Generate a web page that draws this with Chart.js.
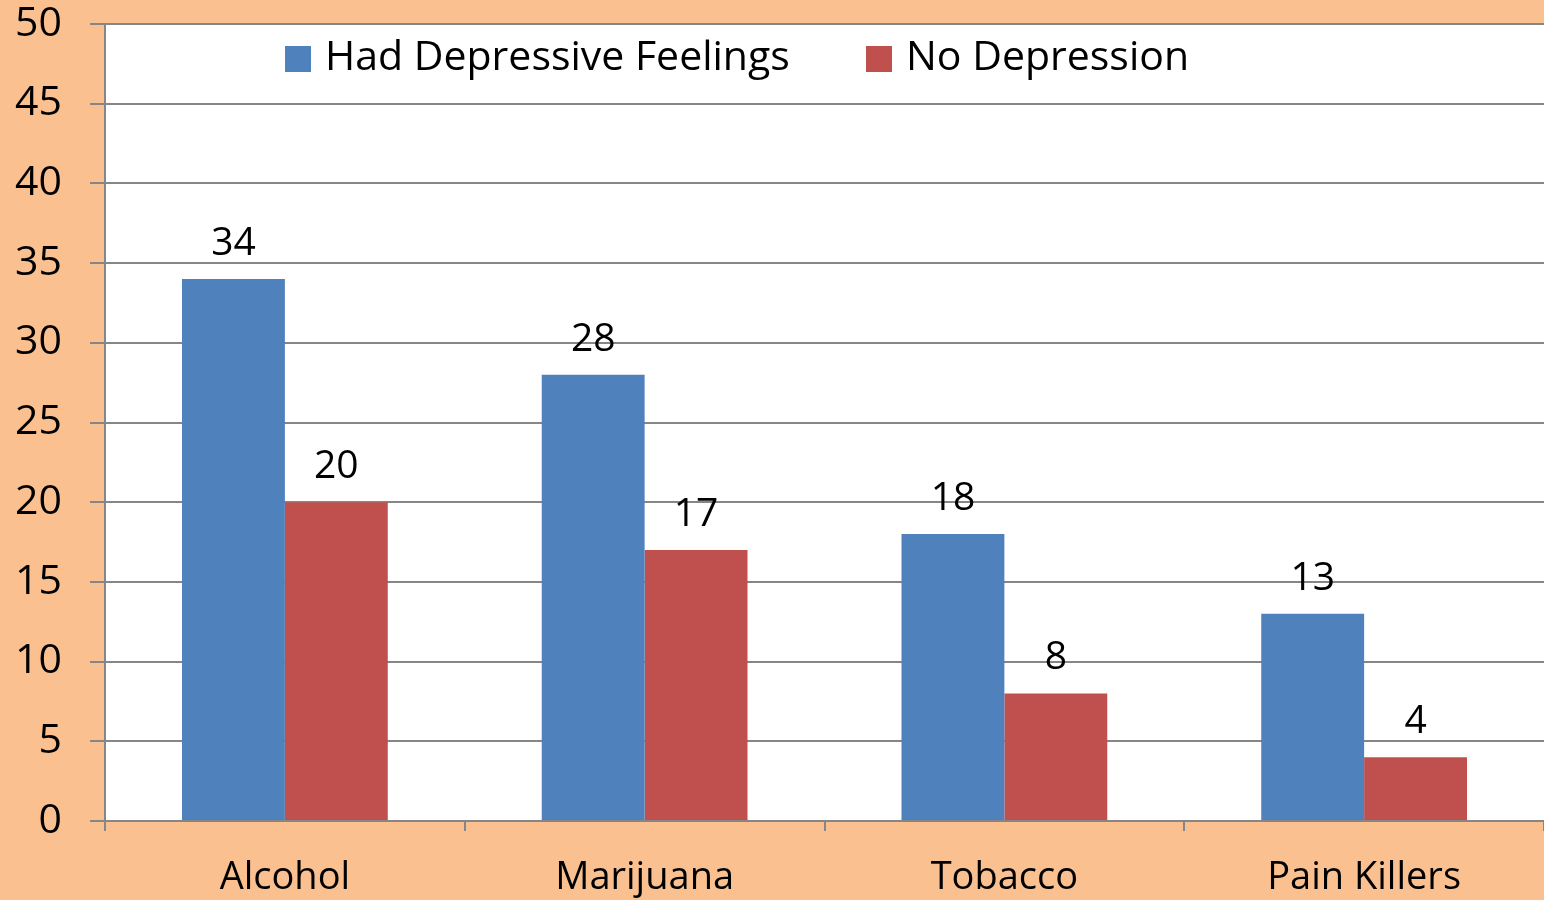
<!DOCTYPE html>
<html>
<head>
<meta charset="utf-8">
<script src="https://cdn.jsdelivr.net/npm/chart.js@4/dist/chart.umd.min.js"></script>
<style>
  html, body { margin: 0; padding: 0; background: #FAC090; }
  #wrap { width: 1544px; height: 900px; }
</style>
</head>
<body>
<div id="wrap"><canvas id="bar-chart"></canvas></div>
<script>
let categories = ['Alcohol', 'Marijuana', 'Tobacco', 'Pain Killers'];
let seriesNames = ['Had Depressive Feelings', 'No Depression'];
let depressed = [34, 28, 18, 13];
let notDepressed = [20, 17, 8, 4];
let yTicks = [0, 5, 10, 15, 20, 25, 30, 35, 40, 45, 50];

let colors = ['#4F81BD', '#C0504D'];
let fontFamily = '"Open Sans", sans-serif';

// orange page, white plot area
let backgroundPlugin = {
    id: 'bg',
    beforeDraw(chart) {
        let ctx = chart.ctx;
        let a = chart.chartArea;
        ctx.save();
        ctx.fillStyle = '#FAC090';
        ctx.fillRect(0, 0, chart.width, chart.height);
        ctx.fillStyle = '#FFFFFF';
        ctx.fillRect(a.left, a.top, a.right - a.left, a.bottom - a.top);
        ctx.restore();
    }
};

// value labels above bars + legend inside plot area
let labelPlugin = {
    id: 'labels',
    afterDatasetsDraw(chart) {
        let ctx = chart.ctx;
        ctx.save();
        ctx.font = '39px ' + fontFamily;
        ctx.fillStyle = '#000';
        ctx.textAlign = 'center';
        ctx.textBaseline = 'alphabetic';
        chart.data.datasets.forEach((ds, i) => {
            chart.getDatasetMeta(i).data.forEach((bar, j) => {
                ctx.fillText(ds.data[j], bar.x, bar.y - 24);
            });
        });

        // legend
        let xs = [285, 866];
        ctx.font = '41px ' + fontFamily;
        ctx.textAlign = 'left';
        ctx.textBaseline = 'middle';
        chart.data.datasets.forEach((ds, i) => {
            ctx.fillStyle = ds.backgroundColor;
            ctx.fillRect(xs[i], 46, 26, 26);
            ctx.fillStyle = '#000';
            ctx.fillText(ds.label, xs[i] + 40, 58);
        });
        ctx.restore();
    }
};

new Chart(document.getElementById('bar-chart'), {
    type: 'bar',
    data: {
        labels: categories,
        datasets: [
            {
                label: seriesNames[0],
                data: depressed,
                backgroundColor: colors[0],
                categoryPercentage: 0.572,
                barPercentage: 1.0,
            },
            {
                label: seriesNames[1],
                data: notDepressed,
                backgroundColor: colors[1],
                categoryPercentage: 0.572,
                barPercentage: 1.0,
            },
        ],
    },
    options: {
        responsive: true,
        maintainAspectRatio: false,
        animation: false,
        layout: { padding: { top: 24, right: 0, left: 0, bottom: 0 } },
        plugins: {
            legend: { display: false },
            tooltip: { enabled: false },
        },
        scales: {
            x: {
                offset: true,
                grid: {
                    offset: true,
                    drawOnChartArea: false,
                    color: '#868686',
                    lineWidth: 2,
                    tickLength: 10,
                },
                border: { color: '#868686', width: 2 },
                ticks: {
                    color: '#000',
                    font: { family: fontFamily, size: 38 },
                    padding: 24,
                },
                afterFit(scale) { scale.height = 79; },
            },
            y: {
                min: 0,
                max: 50,
                afterBuildTicks(scale) {
                    scale.ticks = yTicks.map(v => ({ value: v }));
                },
                grid: {
                    color: '#868686',
                    lineWidth: 2,
                    tickLength: 15,
                },
                border: { color: '#868686', width: 2 },
                ticks: {
                    color: '#000',
                    font: { family: fontFamily, size: 41, lineHeight: 0.5 },
                    padding: 28,
                },
                afterFit(scale) {
                    scale.width = 105;
                    scale.paddingTop = 0;
                },
            },
        },
    },
    plugins: [backgroundPlugin, labelPlugin],
});
</script>
</body>
</html>
